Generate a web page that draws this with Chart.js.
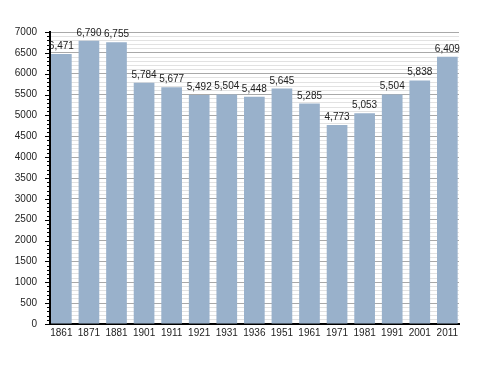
<!DOCTYPE html>
<html>
<head>
<meta charset="utf-8">
<script src="https://cdn.jsdelivr.net/npm/chart.js@4/dist/chart.umd.min.js"></script>
<style>
  html, body { margin: 0; padding: 0; background: #fff; }
  #chart { display: block; }
</style>
</head>
<body>
<canvas id="chart" width="488" height="373"></canvas>
<script>
// Census years and population
const years = ['1861', '1871', '1881', '1901', '1911', '1921', '1931', '1936', '1951', '1961', '1971', '1981', '1991', '2001', '2011'];
const population = [6471, 6790, 6755, 5784, 5677, 5492, 5504, 5448, 5645, 5285, 4773, 5053, 5504, 5838, 6409];
const yMax = 7000;
const yMajor = 500;
const yMinor = 100;

const barColor = '#99b1cb';
const textColor = '#222';
const font = { family: "'Liberation Sans', Arial, sans-serif", size: 10 };

// y axis tick marks: long for majors, short for minors
const tickMarks = {
    id: 'tickMarks',
    afterDraw(chart) {
        const y = chart.scales.y;
        const ctx = chart.ctx;
        const left = chart.chartArea.left;
        ctx.save();
        ctx.strokeStyle = '#000';
        ctx.lineWidth = 1;
        y.ticks.forEach(t => {
            const py = Math.round(y.getPixelForValue(t.value)) + 0.5;
            const len = t.value % yMajor === 0 ? 5 : 3;
            ctx.beginPath();
            ctx.moveTo(left - len, py);
            ctx.lineTo(left, py);
            ctx.stroke();
        });
        ctx.restore();
    }
};

// value labels above bars
const barLabels = {
    id: 'barLabels',
    afterDraw(chart) {
        const ctx = chart.ctx;
        const meta = chart.getDatasetMeta(0);
        ctx.save();
        ctx.fillStyle = textColor;
        ctx.font = `${font.size}px ${font.family}`;
        ctx.textAlign = 'center';
        ctx.textBaseline = 'alphabetic';
        meta.data.forEach((bar, i) => {
            ctx.fillText(population[i].toLocaleString('en-US'), bar.x, bar.y - 5);
        });
        ctx.restore();
    }
};

const ctx = document.getElementById('chart').getContext('2d');
new Chart(ctx, {
    type: 'bar',
    data: {
        datasets: [{
            data: population.map((v, i) => ({ x: i, y: v })),
            backgroundColor: barColor,
            borderWidth: 0,
            categoryPercentage: 1,
            barPercentage: 0.75
        }]
    },
    options: {
        responsive: false,
        animation: false,
        layout: { padding: { left: 0, right: 29, top: 32, bottom: 0 } },
        plugins: {
            legend: { display: false },
            tooltip: { enabled: false }
        },
        scales: {
            x: {
                type: 'linear',
                min: -0.412,
                max: 14.423,
                offset: false,
                grid: { display: false, drawTicks: false },
                border: { display: true, color: '#000', width: 2 },
                afterBuildTicks: scale => {
                    scale.ticks = years.map((_, i) => ({ value: i }));
                },
                afterFit: scale => { scale.height = 49; },
                ticks: {
                    autoSkip: false,
                    maxRotation: 0,
                    padding: 3,
                    color: textColor,
                    font: font,
                    callback: v => years[v]
                }
            },
            y: {
                min: 0,
                max: yMax,
                grid: {
                    drawTicks: false,
                    lineWidth: 1,
                    color: c => c.tick && c.tick.value % yMajor === 0 ? '#a9a9a9' : '#e2e2e2'
                },
                border: { display: true, color: '#000', width: 2 },
                afterFit: scale => { scale.width = 50; },
                ticks: {
                    stepSize: yMinor,
                    autoSkip: false,
                    padding: 13,
                    color: textColor,
                    font: font,
                    callback: v => v % yMajor === 0 ? v : ''
                }
            }
        }
    },
    plugins: [tickMarks, barLabels]
});
</script>
</body>
</html>
